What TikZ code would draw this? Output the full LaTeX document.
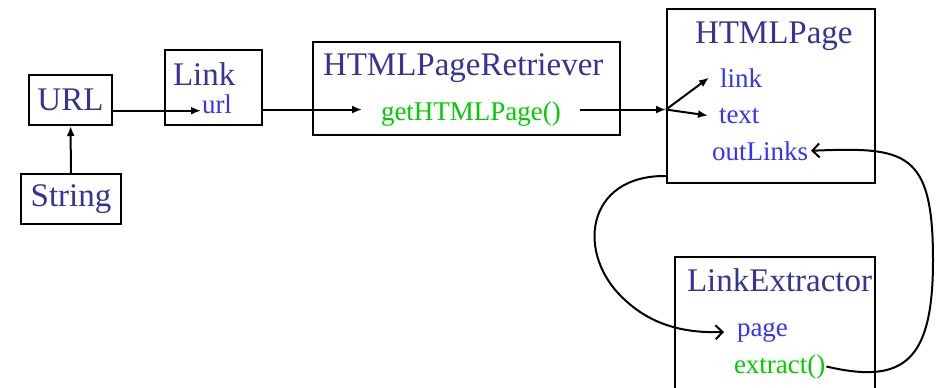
\documentclass[tikz,border=0pt]{standalone}
\usepackage{fontspec}
\setmainfont{Liberation Serif}
\usetikzlibrary{arrows.meta}
\definecolor{classblue}{RGB}{51,51,153}
\definecolor{fieldblue}{RGB}{51,51,255}
\definecolor{methodgreen}{RGB}{0,204,0}

\begin{document}
\begin{tikzpicture}[x=1pt, y=-1pt, line width=2pt,
	classbox/.style={rectangle, draw, line width=2pt, inner sep=0pt, text=classblue, font=\fontsize{33}{36}\selectfont},
	classname/.style={anchor=base west, inner sep=0pt, text=classblue, font=\fontsize{33}{36}\selectfont},
	field/.style={anchor=base west, inner sep=0pt, text=fieldblue, font=\fontsize{27}{30}\selectfont},
	method/.style={field, text=methodgreen},
	tip/.style={-{Latex[length=10pt,width=8pt]}},
	barb/.style={-{Straight Barb[length=7pt,width=14pt]}}]
	\useasboundingbox (0,0) rectangle (938,388);
	% class boxes
	\node (URL)		at ( 70.5, 100)	[classbox, minimum width=83pt,  minimum height=50pt]	{URL};
	\node (String)		at ( 71,   199)	[classbox, minimum width=100pt, minimum height=50pt]	{String};
	\node (linkbox)		at (213.5,  87.5)	[classbox, minimum width=97pt,  minimum height=75pt]	{};
	\node (retrieverbox)	at (466.5,  88.5)	[classbox, minimum width=307pt, minimum height=93pt]	{};
	\node (pagebox)		at (771,    96)	[classbox, minimum width=208pt, minimum height=174pt]	{};
	\node (extractorbox)	at (775,   338.5)	[classbox, minimum width=200pt, minimum height=163pt]	{};
	% class names and members
	\node (Link)		at (172,  85)	[classname]	{Link};
	\node (url)		at (201, 113)	[field]		{url};
	\node (Retriever)	at (322,  75)	[classname]	{HTMLPageRetriever};
	\node (get)		at (362, 120)	[method, inner xsep=18pt]	{getHTMLPage()};
	\node (HTMLPage)	at (694,  43)	[classname]	{HTMLPage};
	\node (link)		at (709,  87)	[field, inner xsep=10pt]	{link};
	\node (text)		at (708, 123)	[field, inner xsep=10pt]	{text};
	\node (outLinks)	at (709, 160)	[field, inner xsep=2pt]	{outLinks};
	\node (Extractor)	at (686, 291)	[classname]	{LinkExtractor};
	\node (page)		at (724, 336)	[field, inner xsep=12pt]	{page};
	\node (extract)		at (733, 373)	[method]	{extract()};
	\coordinate (getin)	at ([yshift=4pt]get.west);
	\coordinate (getout)	at ([yshift=4pt]get.east);
	\coordinate (fork)	at (pagebox.west |- getout);
	\coordinate (leave)	at ([yshift=8pt]pagebox.south west);
	% connectors
	\draw[tip] (String) -- (URL);
	\draw[tip] (URL.east |- url.mid west) -- (url.mid west);
	\draw[tip] (linkbox.east |- getin) -- (getin);
	\draw[tip] (getout) -- (fork);
	\draw[tip] (fork) -- (link.west);
	\draw[tip] (fork) -- (text.west);
	\draw[barb] (leave) .. controls (585,175) and (575,255) .. (625,300) .. controls (655,328) and (690,333) .. (page.west);
	\draw[barb] (extract.east) .. controls (905,385) and (933,360) .. (933,260) .. controls (933,150) and (905,147) .. (outLinks.east);
\end{tikzpicture}
\end{document}
